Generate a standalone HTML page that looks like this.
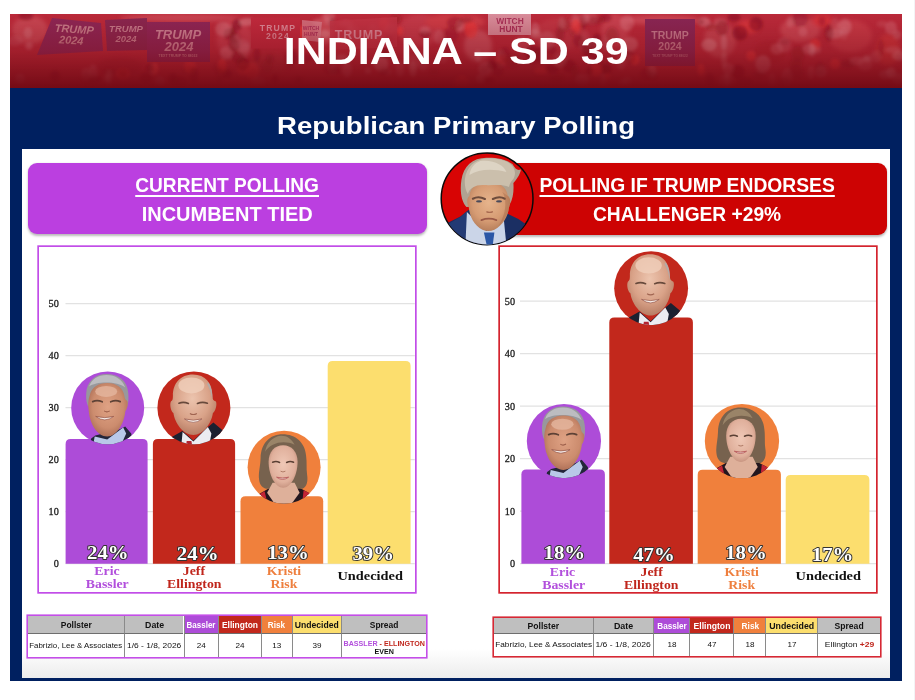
<!DOCTYPE html>
<html lang="en">
<head>
<meta charset="utf-8">
<title>Indiana SD 39 - Republican Primary Polling</title>
<style>
html,body{margin:0;padding:0;}
body{width:915px;height:700px;overflow:hidden;background:#fff;position:relative;font-family:"Liberation Sans",sans-serif;}
.abs{position:absolute;}
#slide{left:10px;top:14px;width:892px;height:667px;background:#002060;}
#hdr{left:10px;top:14px;width:892px;height:74px;overflow:hidden;background:linear-gradient(180deg,#c83848 0%,#b82838 30%,#9c1826 62%,#7e0e18 100%);}
#title{left:10px;top:14px;width:892px;height:74px;text-align:center;color:#fff;font-weight:bold;font-size:36.7px;line-height:74px;white-space:nowrap;}
#title span{display:inline-block;}
#sub{left:10px;top:108px;width:892px;text-align:center;color:#fff;font-weight:bold;font-size:23.7px;line-height:32px;white-space:nowrap;}
#sub span{display:inline-block;}
#panel{left:22px;top:149px;width:868px;height:529px;background:linear-gradient(180deg,#fff 0%,#fff 94.5%,#ececec 100%);}
.hbox{border-radius:9px;box-shadow:0 1.5px 2.5px rgba(0,0,0,.28);color:#fff;font-weight:bold;text-align:center;white-space:nowrap;}
.hbox div{position:absolute;left:0;right:0;text-align:center;font-size:20px;line-height:24px;}
.hbox span{display:inline-block;}
#pbox{left:27.7px;top:163px;width:399px;height:71.2px;background:#bb3fe0;}
#rbox{left:487.8px;top:163.3px;width:399.4px;height:71.3px;background:#cd0303;}
.chart{box-sizing:border-box;background:#fff;}
#c1{left:39px;top:246.7px;width:376.2px;height:345.2px;box-shadow:0 0 0 1.7px #c24de8;}
#c2{left:499.5px;top:246.7px;width:376.2px;height:345.8px;box-shadow:0 0 0 1.7px #d4242e;}
.grid{height:1px;background:#e4e4e4;}
.tick{font-family:"Liberation Serif",serif;font-size:10px;line-height:12px;color:#222;width:20px;text-align:left;}
.bar{border-radius:5px 5px 0 0;}
.pu{background:#ad4cd8;}.rd{background:#c2281c;}.or{background:#f0803c;}.ye{background:#fcde6e;}
.cat{font-family:"Liberation Serif",serif;font-weight:bold;font-size:12px;line-height:12.3px;text-align:center;width:90px;white-space:nowrap;}
.cpu{color:#b24fdc;}.crd{color:#c0261c;}.cor{color:#ee7f3e;}.cbk{color:#111;}
svg text.pct{font-family:"Liberation Serif",serif;font-weight:bold;font-size:18.6px;fill:#fff;stroke:#333;stroke-width:1.8px;transform-box:fill-box;transform-origin:center;transform:scaleX(1.12);paint-order:stroke;stroke-linejoin:round;text-anchor:middle;}
.tb{background:#fff;font-family:"Liberation Sans",sans-serif;color:#111;}
.tb .c{position:absolute;box-sizing:border-box;display:flex;align-items:center;justify-content:center;white-space:nowrap;text-align:center;border-left:1px solid #8a8a8a;}
.tb .c:first-child,.tb .c:nth-child(2){border-left:none;}
.tb .c span{display:inline-block;margin:0 -20px;}
.tb .h{background:#bfbfbf;font-weight:bold;border-bottom:1px solid #6e6e6e;}
.tb .h.pu{background:#ad4cd8;color:#fff;}.tb .h.rd{background:#c2281c;color:#fff;}.tb .h.or{background:#f0803c;color:#fff;}.tb .h.ye{background:#fcde6e;}
.tb .d{line-height:8.6px;}
.tb i{font-style:normal;}.tb .p{color:#b24fdc;}.tb .r{color:#c0261c;}
</style>
</head>
<body>
<div class="abs" style="left:913.5px;top:0;width:1.5px;height:700px;background:#f3f3f5"></div>
<div id="slide" class="abs"></div>
<div id="hdr" class="abs">
<svg width="892" height="74" viewBox="10 14 892 74" style="position:absolute;left:0;top:0">
<defs>
<linearGradient id="hg" x1="0" y1="0" x2="0" y2="1"><stop offset="0" stop-color="#780c16" stop-opacity="0"/><stop offset=".5" stop-color="#780c16" stop-opacity=".38"/><stop offset=".8" stop-color="#760c16" stop-opacity=".76"/><stop offset="1" stop-color="#740b15" stop-opacity="1"/></linearGradient>
<filter id="bl" x="-10%" y="-10%" width="120%" height="120%"><feGaussianBlur stdDeviation="2.2"/></filter>
<filter id="bl2" x="-5%" y="-20%" width="110%" height="140%"><feGaussianBlur stdDeviation="1.5"/></filter>
<filter id="bl1" x="-10%" y="-10%" width="120%" height="120%"><feGaussianBlur stdDeviation=".5"/></filter>
</defs>
<rect x="10" y="14" width="892" height="74" fill="#ba2a3a"/>
<g filter="url(#bl)" opacity=".6">
  <ellipse cx="30" cy="30" rx="18" ry="14" fill="#d25a64"/>
  <ellipse cx="120" cy="66" rx="22" ry="9" fill="#a82430"/>
  <ellipse cx="235" cy="40" rx="18" ry="20" fill="#cf4a58"/>
  <ellipse cx="270" cy="64" rx="20" ry="10" fill="#b0303a"/>
  <ellipse cx="325" cy="30" rx="10" ry="14" fill="#d8606a"/>
  <ellipse cx="420" cy="30" rx="22" ry="16" fill="#cc4452"/>
  <ellipse cx="455" cy="22" rx="30" ry="8" fill="#dc4a50"/>
  <ellipse cx="478" cy="46" rx="14" ry="16" fill="#d86a74"/>
  <ellipse cx="560" cy="34" rx="26" ry="16" fill="#c43c4a"/>
  <ellipse cx="615" cy="30" rx="14" ry="16" fill="#d4525e"/>
  <ellipse cx="720" cy="40" rx="16" ry="18" fill="#cf5660"/>
  <ellipse cx="748" cy="27" rx="11" ry="7" fill="#ea3c40"/>
  <ellipse cx="770" cy="52" rx="16" ry="12" fill="#b0242e"/>
  <ellipse cx="800" cy="30" rx="20" ry="12" fill="#d65862"/>
  <ellipse cx="822" cy="21" rx="10" ry="6" fill="#e83a3e"/>
  <ellipse cx="850" cy="36" rx="22" ry="16" fill="#d04450"/>
  <ellipse cx="888" cy="50" rx="12" ry="16" fill="#da3c3c"/>
  <ellipse cx="660" cy="20" rx="40" ry="5" fill="#d85a66"/>
  <ellipse cx="180" cy="18" rx="60" ry="4" fill="#d45864"/>
</g>
<g filter="url(#bl2)"><ellipse cx="590" cy="21" rx="7.5" ry="4.3" fill="#8c1622" opacity="0.37"/><ellipse cx="226" cy="53" rx="6.2" ry="6.5" fill="#e8909a" opacity="0.35"/><ellipse cx="384" cy="53" rx="3.9" ry="6.5" fill="#6e0c16" opacity="0.41"/><ellipse cx="579" cy="41" rx="6.1" ry="6.0" fill="#7a0e1a" opacity="0.36"/><ellipse cx="484" cy="69" rx="4.2" ry="4.1" fill="#8c1622" opacity="0.32"/><ellipse cx="704" cy="22" rx="6.6" ry="4.7" fill="#f0b4b8" opacity="0.34"/><ellipse cx="882" cy="24" rx="5.4" ry="3.2" fill="#dc7c88" opacity="0.21"/><ellipse cx="605" cy="68" rx="4.8" ry="6.0" fill="#8c1622" opacity="0.32"/><ellipse cx="720" cy="21" rx="6.3" ry="3.4" fill="#dc7c88" opacity="0.27"/><ellipse cx="635" cy="60" rx="4.4" ry="5.3" fill="#f23a3a" opacity="0.75"/><ellipse cx="606" cy="18" rx="5.5" ry="4.3" fill="#7a0e1a" opacity="0.37"/><ellipse cx="267" cy="66" rx="5.2" ry="6.3" fill="#8c1622" opacity="0.27"/><ellipse cx="796" cy="72" rx="7.9" ry="7.1" fill="#8c1622" opacity="0.39"/><ellipse cx="350" cy="32" rx="4.2" ry="5.9" fill="#e4a0a8" opacity="0.22"/><ellipse cx="535" cy="34" rx="6.0" ry="4.9" fill="#f0b4b8" opacity="0.27"/><ellipse cx="123" cy="74" rx="6.7" ry="5.7" fill="#f23a3a" opacity="0.70"/><ellipse cx="785" cy="81" rx="5.0" ry="3.6" fill="#6e0c16" opacity="0.33"/><ellipse cx="575" cy="20" rx="3.5" ry="6.6" fill="#e4a0a8" opacity="0.26"/><ellipse cx="489" cy="81" rx="6.1" ry="3.9" fill="#7a0e1a" opacity="0.42"/><ellipse cx="236" cy="40" rx="5.4" ry="8.9" fill="#7a0e1a" opacity="0.27"/><ellipse cx="439" cy="37" rx="5.4" ry="7.2" fill="#dc7c88" opacity="0.32"/><ellipse cx="471" cy="30" rx="6.5" ry="8.5" fill="#f23a3a" opacity="0.61"/><ellipse cx="583" cy="22" rx="3.8" ry="7.6" fill="#6e0c16" opacity="0.32"/><ellipse cx="485" cy="69" rx="6.9" ry="7.5" fill="#e4a0a8" opacity="0.29"/><ellipse cx="368" cy="71" rx="3.1" ry="3.2" fill="#f0b4b8" opacity="0.24"/><ellipse cx="627" cy="81" rx="4.8" ry="4.3" fill="#dc7c88" opacity="0.35"/><ellipse cx="811" cy="73" rx="3.4" ry="7.0" fill="#dc7c88" opacity="0.32"/><ellipse cx="820" cy="69" rx="5.2" ry="6.8" fill="#8c1622" opacity="0.43"/><ellipse cx="89" cy="80" rx="7.7" ry="7.3" fill="#8c1622" opacity="0.33"/><ellipse cx="146" cy="78" rx="6.0" ry="5.8" fill="#7a0e1a" opacity="0.37"/><ellipse cx="844" cy="27" rx="7.9" ry="6.9" fill="#e8909a" opacity="0.18"/><ellipse cx="480" cy="79" rx="4.1" ry="4.5" fill="#e4a0a8" opacity="0.33"/><ellipse cx="384" cy="25" rx="5.3" ry="6.5" fill="#f23a3a" opacity="0.61"/><ellipse cx="815" cy="45" rx="5.7" ry="6.1" fill="#f23a3a" opacity="0.65"/><ellipse cx="29" cy="46" rx="3.7" ry="3.8" fill="#e8909a" opacity="0.32"/><ellipse cx="562" cy="24" rx="3.5" ry="6.4" fill="#f0b4b8" opacity="0.32"/><ellipse cx="233" cy="35" rx="3.1" ry="8.4" fill="#6e0c16" opacity="0.34"/><ellipse cx="876" cy="57" rx="5.7" ry="5.9" fill="#dc7c88" opacity="0.26"/><ellipse cx="848" cy="64" rx="7.5" ry="4.2" fill="#8c1622" opacity="0.43"/><ellipse cx="409" cy="44" rx="4.2" ry="3.4" fill="#dc7c88" opacity="0.19"/><ellipse cx="606" cy="69" rx="6.2" ry="5.2" fill="#7a0e1a" opacity="0.44"/><ellipse cx="237" cy="25" rx="5.0" ry="5.9" fill="#6e0c16" opacity="0.44"/><ellipse cx="891" cy="73" rx="5.0" ry="5.5" fill="#f0b4b8" opacity="0.36"/><ellipse cx="329" cy="22" rx="5.2" ry="3.1" fill="#dc7c88" opacity="0.28"/><ellipse cx="306" cy="58" rx="7.6" ry="4.4" fill="#7a0e1a" opacity="0.27"/><ellipse cx="790" cy="22" rx="3.6" ry="5.5" fill="#e4a0a8" opacity="0.23"/><ellipse cx="821" cy="72" rx="5.6" ry="6.0" fill="#e4a0a8" opacity="0.27"/><ellipse cx="722" cy="28" rx="6.2" ry="7.8" fill="#8c1622" opacity="0.44"/><ellipse cx="86" cy="74" rx="4.7" ry="6.3" fill="#e8909a" opacity="0.26"/><ellipse cx="835" cy="34" rx="7.8" ry="4.6" fill="#e4a0a8" opacity="0.35"/><ellipse cx="173" cy="79" rx="4.4" ry="6.0" fill="#6e0c16" opacity="0.40"/><ellipse cx="28" cy="33" rx="4.2" ry="5.7" fill="#e4a0a8" opacity="0.27"/><ellipse cx="597" cy="60" rx="5.0" ry="6.0" fill="#6e0c16" opacity="0.42"/><ellipse cx="623" cy="83" rx="4.7" ry="3.3" fill="#e4a0a8" opacity="0.25"/><ellipse cx="759" cy="75" rx="6.5" ry="3.3" fill="#8c1622" opacity="0.37"/><ellipse cx="15" cy="41" rx="7.8" ry="4.9" fill="#dc7c88" opacity="0.22"/><ellipse cx="329" cy="16" rx="6.3" ry="4.5" fill="#f0b4b8" opacity="0.23"/><ellipse cx="701" cy="22" rx="3.2" ry="3.1" fill="#7a0e1a" opacity="0.33"/><ellipse cx="532" cy="52" rx="6.9" ry="6.6" fill="#6e0c16" opacity="0.43"/><ellipse cx="451" cy="35" rx="7.2" ry="8.4" fill="#7a0e1a" opacity="0.26"/><ellipse cx="569" cy="66" rx="6.8" ry="6.4" fill="#7a0e1a" opacity="0.43"/><ellipse cx="734" cy="17" rx="6.5" ry="4.4" fill="#6e0c16" opacity="0.39"/><ellipse cx="332" cy="23" rx="3.1" ry="6.2" fill="#6e0c16" opacity="0.26"/><ellipse cx="229" cy="34" rx="5.5" ry="6.2" fill="#7a0e1a" opacity="0.40"/><ellipse cx="597" cy="20" rx="7.2" ry="4.4" fill="#8c1622" opacity="0.41"/><ellipse cx="589" cy="47" rx="6.4" ry="7.6" fill="#7a0e1a" opacity="0.35"/><ellipse cx="560" cy="60" rx="6.3" ry="7.2" fill="#e4a0a8" opacity="0.24"/><ellipse cx="564" cy="25" rx="6.4" ry="7.2" fill="#8c1622" opacity="0.30"/><ellipse cx="612" cy="36" rx="6.8" ry="9.0" fill="#8c1622" opacity="0.34"/><ellipse cx="462" cy="84" rx="7.6" ry="8.6" fill="#f23a3a" opacity="0.62"/><ellipse cx="331" cy="57" rx="6.5" ry="4.4" fill="#8c1622" opacity="0.43"/><ellipse cx="809" cy="49" rx="6.4" ry="5.4" fill="#e8909a" opacity="0.35"/><ellipse cx="346" cy="24" rx="7.2" ry="3.7" fill="#dc7c88" opacity="0.32"/><ellipse cx="835" cy="64" rx="4.9" ry="5.4" fill="#f23a3a" opacity="0.59"/><ellipse cx="899" cy="56" rx="7.3" ry="4.7" fill="#f0b4b8" opacity="0.32"/><ellipse cx="576" cy="26" rx="4.6" ry="7.6" fill="#f23a3a" opacity="0.63"/><ellipse cx="709" cy="45" rx="7.7" ry="6.3" fill="#f0b4b8" opacity="0.35"/><ellipse cx="835" cy="25" rx="4.3" ry="7.4" fill="#dc7c88" opacity="0.23"/><ellipse cx="592" cy="44" rx="5.0" ry="4.0" fill="#f0b4b8" opacity="0.28"/><ellipse cx="816" cy="50" rx="5.2" ry="3.8" fill="#dc7c88" opacity="0.36"/><ellipse cx="316" cy="22" rx="4.0" ry="3.1" fill="#dc7c88" opacity="0.32"/><ellipse cx="785" cy="42" rx="4.7" ry="3.4" fill="#7a0e1a" opacity="0.33"/><ellipse cx="258" cy="82" rx="7.5" ry="5.3" fill="#e4a0a8" opacity="0.19"/><ellipse cx="585" cy="45" rx="5.1" ry="7.6" fill="#e8909a" opacity="0.20"/><ellipse cx="726" cy="82" rx="7.6" ry="8.0" fill="#e8909a" opacity="0.25"/><ellipse cx="772" cy="82" rx="3.8" ry="8.8" fill="#e8909a" opacity="0.22"/><ellipse cx="109" cy="72" rx="6.9" ry="3.0" fill="#8c1622" opacity="0.27"/><ellipse cx="867" cy="59" rx="3.6" ry="3.4" fill="#f0b4b8" opacity="0.30"/><ellipse cx="478" cy="56" rx="3.0" ry="6.2" fill="#e4a0a8" opacity="0.32"/><ellipse cx="897" cy="35" rx="4.2" ry="4.5" fill="#e4a0a8" opacity="0.27"/><ellipse cx="865" cy="64" rx="7.4" ry="6.9" fill="#e8909a" opacity="0.22"/><ellipse cx="389" cy="41" rx="5.1" ry="7.1" fill="#6e0c16" opacity="0.32"/><ellipse cx="188" cy="70" rx="5.5" ry="4.2" fill="#6e0c16" opacity="0.26"/><ellipse cx="425" cy="34" rx="5.5" ry="4.1" fill="#7a0e1a" opacity="0.44"/><ellipse cx="603" cy="81" rx="3.1" ry="6.6" fill="#f0b4b8" opacity="0.19"/><ellipse cx="381" cy="64" rx="7.4" ry="7.4" fill="#f0b4b8" opacity="0.34"/><ellipse cx="898" cy="79" rx="5.6" ry="5.8" fill="#e4a0a8" opacity="0.30"/><ellipse cx="289" cy="65" rx="3.5" ry="3.5" fill="#8c1622" opacity="0.34"/><ellipse cx="798" cy="54" rx="7.1" ry="7.9" fill="#8c1622" opacity="0.32"/><ellipse cx="396" cy="19" rx="5.2" ry="4.9" fill="#8c1622" opacity="0.36"/><ellipse cx="573" cy="33" rx="3.2" ry="3.4" fill="#8c1622" opacity="0.26"/><ellipse cx="829" cy="33" rx="4.4" ry="8.7" fill="#6e0c16" opacity="0.32"/><ellipse cx="560" cy="34" rx="4.5" ry="7.3" fill="#8c1622" opacity="0.43"/><ellipse cx="541" cy="71" rx="7.1" ry="3.6" fill="#f23a3a" opacity="0.52"/><ellipse cx="701" cy="70" rx="3.7" ry="6.0" fill="#f23a3a" opacity="0.74"/><ellipse cx="20" cy="79" rx="4.6" ry="4.9" fill="#e4a0a8" opacity="0.29"/><ellipse cx="333" cy="69" rx="3.8" ry="5.4" fill="#e4a0a8" opacity="0.25"/><ellipse cx="589" cy="49" rx="7.4" ry="8.9" fill="#7a0e1a" opacity="0.45"/><ellipse cx="247" cy="22" rx="7.9" ry="4.0" fill="#f0b4b8" opacity="0.36"/><ellipse cx="803" cy="32" rx="4.5" ry="4.7" fill="#e8909a" opacity="0.32"/><ellipse cx="243" cy="46" rx="7.4" ry="6.5" fill="#e4a0a8" opacity="0.21"/><ellipse cx="893" cy="50" rx="8.0" ry="3.6" fill="#e8909a" opacity="0.30"/><ellipse cx="434" cy="72" rx="4.5" ry="3.7" fill="#8c1622" opacity="0.26"/><ellipse cx="180" cy="82" rx="7.3" ry="5.7" fill="#7a0e1a" opacity="0.32"/><ellipse cx="243" cy="69" rx="6.0" ry="6.7" fill="#f23a3a" opacity="0.53"/><ellipse cx="238" cy="57" rx="7.1" ry="5.5" fill="#7a0e1a" opacity="0.41"/><ellipse cx="342" cy="58" rx="5.7" ry="3.4" fill="#e8909a" opacity="0.32"/><ellipse cx="501" cy="59" rx="4.4" ry="8.9" fill="#e4a0a8" opacity="0.25"/><ellipse cx="605" cy="44" rx="3.1" ry="7.6" fill="#dc7c88" opacity="0.25"/><ellipse cx="724" cy="60" rx="3.0" ry="8.4" fill="#f0b4b8" opacity="0.22"/><ellipse cx="388" cy="72" rx="3.8" ry="3.1" fill="#dc7c88" opacity="0.27"/><ellipse cx="502" cy="60" rx="6.1" ry="5.2" fill="#f23a3a" opacity="0.53"/><ellipse cx="460" cy="26" rx="3.5" ry="5.9" fill="#e4a0a8" opacity="0.35"/><ellipse cx="727" cy="82" rx="3.2" ry="8.5" fill="#e4a0a8" opacity="0.33"/><ellipse cx="291" cy="57" rx="6.1" ry="7.9" fill="#7a0e1a" opacity="0.43"/><ellipse cx="154" cy="69" rx="4.0" ry="5.8" fill="#f0b4b8" opacity="0.29"/><ellipse cx="845" cy="27" rx="6.6" ry="8.4" fill="#e4a0a8" opacity="0.22"/><ellipse cx="756" cy="24" rx="6.9" ry="6.9" fill="#6e0c16" opacity="0.42"/><ellipse cx="358" cy="41" rx="6.1" ry="5.9" fill="#7a0e1a" opacity="0.25"/><ellipse cx="221" cy="68" rx="7.1" ry="5.4" fill="#8c1622" opacity="0.42"/><ellipse cx="336" cy="71" rx="6.2" ry="3.5" fill="#6e0c16" opacity="0.26"/><ellipse cx="466" cy="20" rx="6.9" ry="3.2" fill="#8c1622" opacity="0.38"/><ellipse cx="627" cy="23" rx="7.1" ry="7.8" fill="#f0b4b8" opacity="0.23"/><ellipse cx="621" cy="65" rx="4.3" ry="4.9" fill="#dc7c88" opacity="0.29"/><ellipse cx="557" cy="78" rx="7.6" ry="4.2" fill="#8c1622" opacity="0.35"/><ellipse cx="245" cy="50" rx="5.0" ry="6.8" fill="#e8909a" opacity="0.22"/><ellipse cx="347" cy="70" rx="4.8" ry="8.2" fill="#e8909a" opacity="0.30"/><ellipse cx="505" cy="55" rx="5.7" ry="8.1" fill="#7a0e1a" opacity="0.30"/><ellipse cx="346" cy="41" rx="5.2" ry="4.1" fill="#dc7c88" opacity="0.32"/><ellipse cx="740" cy="33" rx="7.5" ry="7.4" fill="#6e0c16" opacity="0.44"/><ellipse cx="270" cy="59" rx="3.7" ry="4.4" fill="#8c1622" opacity="0.43"/><ellipse cx="592" cy="18" rx="5.6" ry="6.2" fill="#dc7c88" opacity="0.24"/><ellipse cx="379" cy="36" rx="5.4" ry="3.8" fill="#dc7c88" opacity="0.30"/><ellipse cx="844" cy="33" rx="3.7" ry="7.0" fill="#e8909a" opacity="0.19"/><ellipse cx="252" cy="71" rx="7.1" ry="8.4" fill="#f23a3a" opacity="0.52"/><ellipse cx="540" cy="55" rx="4.2" ry="8.4" fill="#6e0c16" opacity="0.40"/><ellipse cx="373" cy="32" rx="5.8" ry="8.6" fill="#e8909a" opacity="0.18"/><ellipse cx="552" cy="50" rx="4.5" ry="4.8" fill="#6e0c16" opacity="0.28"/><ellipse cx="55" cy="76" rx="4.9" ry="5.6" fill="#6e0c16" opacity="0.36"/><ellipse cx="822" cy="21" rx="3.5" ry="4.4" fill="#7a0e1a" opacity="0.30"/><ellipse cx="763" cy="64" rx="7.6" ry="8.8" fill="#f0b4b8" opacity="0.30"/><ellipse cx="275" cy="79" rx="3.1" ry="4.6" fill="#7a0e1a" opacity="0.43"/><ellipse cx="222" cy="67" rx="4.6" ry="8.3" fill="#f23a3a" opacity="0.72"/><ellipse cx="304" cy="32" rx="6.5" ry="7.0" fill="#f23a3a" opacity="0.69"/><ellipse cx="881" cy="48" rx="3.1" ry="8.7" fill="#6e0c16" opacity="0.25"/><ellipse cx="220" cy="76" rx="3.4" ry="8.5" fill="#8c1622" opacity="0.37"/><ellipse cx="107" cy="79" rx="3.2" ry="3.8" fill="#e4a0a8" opacity="0.31"/><ellipse cx="583" cy="19" rx="6.0" ry="5.2" fill="#e8909a" opacity="0.19"/><ellipse cx="738" cy="72" rx="6.8" ry="7.3" fill="#7a0e1a" opacity="0.43"/><ellipse cx="353" cy="33" rx="7.2" ry="7.9" fill="#e8909a" opacity="0.19"/><ellipse cx="575" cy="72" rx="3.7" ry="7.8" fill="#8c1622" opacity="0.35"/><ellipse cx="586" cy="36" rx="4.3" ry="4.7" fill="#dc7c88" opacity="0.19"/><ellipse cx="297" cy="82" rx="3.2" ry="5.5" fill="#8c1622" opacity="0.37"/><ellipse cx="400" cy="69" rx="4.1" ry="8.2" fill="#e8909a" opacity="0.27"/><ellipse cx="93" cy="72" rx="4.4" ry="7.5" fill="#e8909a" opacity="0.27"/><ellipse cx="745" cy="82" rx="7.7" ry="4.7" fill="#6e0c16" opacity="0.30"/><ellipse cx="455" cy="23" rx="8.0" ry="6.4" fill="#7a0e1a" opacity="0.35"/><ellipse cx="96" cy="79" rx="7.4" ry="3.2" fill="#6e0c16" opacity="0.27"/><ellipse cx="812" cy="50" rx="3.6" ry="6.6" fill="#e4a0a8" opacity="0.35"/><ellipse cx="624" cy="57" rx="7.3" ry="5.7" fill="#dc7c88" opacity="0.27"/><ellipse cx="423" cy="63" rx="5.3" ry="8.3" fill="#e4a0a8" opacity="0.20"/><ellipse cx="223" cy="29" rx="7.9" ry="7.3" fill="#e4a0a8" opacity="0.31"/><ellipse cx="547" cy="40" rx="7.8" ry="9.0" fill="#e4a0a8" opacity="0.22"/><ellipse cx="109" cy="78" rx="3.1" ry="8.1" fill="#f0b4b8" opacity="0.27"/><ellipse cx="400" cy="31" rx="3.1" ry="4.5" fill="#f23a3a" opacity="0.59"/><ellipse cx="227" cy="74" rx="5.1" ry="4.4" fill="#6e0c16" opacity="0.40"/><ellipse cx="653" cy="76" rx="4.1" ry="4.1" fill="#6e0c16" opacity="0.37"/><ellipse cx="243" cy="64" rx="6.6" ry="6.8" fill="#7a0e1a" opacity="0.41"/><ellipse cx="234" cy="45" rx="5.6" ry="7.0" fill="#6e0c16" opacity="0.42"/><ellipse cx="787" cy="77" rx="5.4" ry="8.8" fill="#e8909a" opacity="0.25"/><ellipse cx="155" cy="69" rx="3.5" ry="6.4" fill="#f23a3a" opacity="0.66"/><ellipse cx="492" cy="65" rx="4.8" ry="5.1" fill="#6e0c16" opacity="0.41"/><ellipse cx="891" cy="28" rx="6.1" ry="6.8" fill="#e8909a" opacity="0.31"/><ellipse cx="236" cy="42" rx="5.1" ry="7.2" fill="#e8909a" opacity="0.25"/><ellipse cx="325" cy="34" rx="5.6" ry="4.3" fill="#f0b4b8" opacity="0.35"/><ellipse cx="724" cy="43" rx="3.3" ry="7.8" fill="#e4a0a8" opacity="0.35"/><ellipse cx="652" cy="71" rx="4.5" ry="6.3" fill="#f0b4b8" opacity="0.27"/><ellipse cx="123" cy="73" rx="4.9" ry="4.5" fill="#7a0e1a" opacity="0.30"/><ellipse cx="390" cy="29" rx="6.3" ry="4.9" fill="#dc7c88" opacity="0.24"/><ellipse cx="443" cy="58" rx="4.5" ry="5.3" fill="#dc7c88" opacity="0.21"/><ellipse cx="300" cy="80" rx="3.1" ry="3.1" fill="#8c1622" opacity="0.38"/><ellipse cx="857" cy="61" rx="7.3" ry="4.1" fill="#e8909a" opacity="0.28"/><ellipse cx="413" cy="69" rx="3.8" ry="8.3" fill="#f0b4b8" opacity="0.32"/><ellipse cx="552" cy="69" rx="7.2" ry="4.2" fill="#6e0c16" opacity="0.41"/><ellipse cx="627" cy="52" rx="3.6" ry="3.7" fill="#8c1622" opacity="0.38"/><ellipse cx="384" cy="72" rx="5.3" ry="3.9" fill="#6e0c16" opacity="0.26"/><ellipse cx="448" cy="50" rx="7.2" ry="5.8" fill="#6e0c16" opacity="0.25"/><ellipse cx="512" cy="61" rx="8.0" ry="7.1" fill="#8c1622" opacity="0.34"/><ellipse cx="586" cy="17" rx="3.5" ry="5.9" fill="#dc7c88" opacity="0.32"/><ellipse cx="597" cy="39" rx="4.1" ry="5.6" fill="#6e0c16" opacity="0.40"/><ellipse cx="387" cy="54" rx="5.5" ry="5.0" fill="#8c1622" opacity="0.32"/><ellipse cx="886" cy="75" rx="7.0" ry="5.0" fill="#e4a0a8" opacity="0.30"/><ellipse cx="533" cy="59" rx="5.8" ry="5.4" fill="#7a0e1a" opacity="0.33"/><ellipse cx="522" cy="43" rx="7.6" ry="6.7" fill="#e8909a" opacity="0.22"/><ellipse cx="596" cy="70" rx="6.1" ry="6.8" fill="#f23a3a" opacity="0.68"/><ellipse cx="630" cy="57" rx="6.2" ry="6.8" fill="#7a0e1a" opacity="0.26"/><ellipse cx="784" cy="45" rx="7.1" ry="7.7" fill="#e8909a" opacity="0.24"/><ellipse cx="582" cy="80" rx="6.9" ry="5.5" fill="#e8909a" opacity="0.33"/><ellipse cx="630" cy="44" rx="8.0" ry="7.0" fill="#f0b4b8" opacity="0.29"/><ellipse cx="150" cy="68" rx="4.1" ry="3.9" fill="#7a0e1a" opacity="0.38"/><ellipse cx="26" cy="16" rx="7.3" ry="4.3" fill="#7a0e1a" opacity="0.45"/><ellipse cx="257" cy="55" rx="3.3" ry="7.6" fill="#6e0c16" opacity="0.29"/><ellipse cx="646" cy="74" rx="5.8" ry="6.0" fill="#7a0e1a" opacity="0.31"/><ellipse cx="607" cy="77" rx="3.2" ry="3.4" fill="#f23a3a" opacity="0.52"/><ellipse cx="796" cy="63" rx="6.6" ry="4.0" fill="#8c1622" opacity="0.31"/><ellipse cx="777" cy="49" rx="6.6" ry="5.8" fill="#dc7c88" opacity="0.35"/><ellipse cx="160" cy="82" rx="5.1" ry="5.3" fill="#e4a0a8" opacity="0.30"/><ellipse cx="710" cy="80" rx="4.4" ry="6.7" fill="#6e0c16" opacity="0.32"/><ellipse cx="590" cy="71" rx="3.1" ry="3.9" fill="#6e0c16" opacity="0.40"/><ellipse cx="751" cy="56" rx="4.9" ry="5.3" fill="#f23a3a" opacity="0.57"/><ellipse cx="413" cy="63" rx="5.9" ry="7.9" fill="#dc7c88" opacity="0.26"/><ellipse cx="800" cy="19" rx="7.9" ry="7.8" fill="#6e0c16" opacity="0.28"/><ellipse cx="498" cy="69" rx="5.8" ry="7.8" fill="#6e0c16" opacity="0.27"/><ellipse cx="190" cy="67" rx="6.0" ry="7.1" fill="#f23a3a" opacity="0.57"/><ellipse cx="425" cy="30" rx="5.3" ry="3.5" fill="#e8909a" opacity="0.32"/><ellipse cx="728" cy="69" rx="5.6" ry="5.9" fill="#dc7c88" opacity="0.34"/><ellipse cx="535" cy="29" rx="4.4" ry="6.5" fill="#e4a0a8" opacity="0.32"/><ellipse cx="331" cy="69" rx="8.0" ry="5.2" fill="#7a0e1a" opacity="0.26"/><ellipse cx="711" cy="27" rx="6.0" ry="3.6" fill="#8c1622" opacity="0.31"/><ellipse cx="194" cy="75" rx="4.3" ry="7.7" fill="#6e0c16" opacity="0.36"/></g>
<g filter="url(#bl1)" font-family="'Liberation Sans',sans-serif" font-weight="bold" font-style="italic" text-anchor="middle">
  <path d="M52 18 L101 23 L103 51 L37 55 Z" fill="#8c2854"/>
  <text x="74" y="33" font-size="11" fill="#c8808e" transform="rotate(4 74 33)">TRUMP</text>
  <text x="71" y="44" font-size="11" fill="#c8808e" transform="rotate(4 71 44)">2024</text>
  <path d="M105 20 L147 18 L147 50 L107 51 Z" fill="#882650"/>
  <text x="126" y="32" font-size="9.5" fill="#c47c8c">TRUMP</text>
  <text x="126" y="42" font-size="9.5" fill="#c47c8c">2024</text>
  <path d="M147 22 L210 22 L210 62 L147 62 Z" fill="#8c2856"/>
  <text x="178" y="39" font-size="13" fill="#cc8496">TRUMP</text>
  <text x="179" y="51" font-size="13" fill="#cc8496">2024</text>
  <text x="178" y="57" font-size="3.5" fill="#c47c8c" font-style="normal">TEXT TRUMP TO 88022</text>
  <path d="M251 17.6 L300 17.6 L300 48.6 L251 48.6 Z" fill="#c02c3e"/>
  <text x="278" y="30.6" font-size="8.6" fill="#dc8c9a" font-style="normal" letter-spacing="1.2">TRUMP</text>
  <text x="278" y="38.8" font-size="8.6" fill="#dc8c9a" font-style="normal" letter-spacing="1.2">2024</text>
  <path d="M330 21 L397 17 L397 47 L330 50 Z" fill="#c23446" opacity=".8"/>
  <text x="359" y="38.5" font-size="12.5" fill="#d88896" font-style="normal" letter-spacing=".8">TRUMP</text>
  <path d="M488 14 L531 14 L531 35 L488 35 Z" fill="#d88c9a"/>
  <text x="510" y="23.5" font-size="8.4" fill="#a83058" font-style="normal">WITCH</text>
  <text x="511" y="32" font-size="8.4" fill="#a83058" font-style="normal">HUNT</text>
  <path d="M302 20 L322 22 L320 42 L302 40 Z" fill="#d88894" opacity=".7"/>
  <text x="311" y="30" font-size="5" fill="#a83058" font-style="normal">WITCH</text>
  <text x="311" y="36" font-size="5" fill="#a83058" font-style="normal">HUNT</text>
  <path d="M645 19 L695 19 L695 66 L645 66 Z" fill="#882854"/>
  <text x="670" y="39" font-size="10.5" fill="#c47c90" font-style="normal">TRUMP</text>
  <text x="670" y="50" font-size="10.5" fill="#c47c90" font-style="normal">2024</text>
  <text x="670" y="57" font-size="3.2" fill="#b87088" font-style="normal">TEXT TRUMP TO 88022</text>
</g>
<rect x="10" y="14" width="892" height="74" fill="url(#hg)"/>
</svg>
</div>
<div id="title" class="abs"><span style="transform:scaleX(1.172);position:relative;top:1px">INDIANA – SD 39</span></div>
<div id="sub" class="abs"><span style="transform:scaleX(1.162);position:relative;top:2px">Republican Primary Polling</span></div>
<div id="panel" class="abs"></div>

<div id="pbox" class="abs hbox">
  <div style="top:10px"><span style="text-decoration:underline;text-decoration-thickness:1.6px;text-underline-offset:2.5px;transform:scaleX(.956)">CURRENT POLLING</span></div>
  <div style="top:38.7px"><span>INCUMBENT TIED</span></div>
</div>
<div id="rbox" class="abs hbox">
  <div style="top:10px"><span style="text-decoration:underline;text-decoration-thickness:1.6px;text-underline-offset:2.5px;transform:scaleX(.964)">POLLING IF TRUMP ENDORSES</span></div>
  <div style="top:38.7px"><span style="transform:scaleX(.959)">CHALLENGER +29%</span></div>
</div>

<div id="c1" class="abs chart"></div>
<div id="c2" class="abs chart"></div>


<!--TABLES-->
<div id="t1" class="abs tb" style="left:28.0px;top:616.2px;width:397.8px;height:41.2px;box-shadow:0 0 0 1.6px #c44ee8">
<div class="c h " style="left:0.0px;width:96.2px;top:0;height:17.4px;font-size:8.9px"><span style="transform:scaleX(0.95);position:relative;top:1px">Pollster</span></div>
<div class="c d" style="left:0.0px;width:96.2px;top:17.4px;height:23.8px;font-size:8.1px"><span style="transform:scaleX(0.975);position:relative;top:0.6px">Fabrizio, Lee &amp; Associates</span></div>
<div class="c h " style="left:96.2px;width:59.3px;top:0;height:17.4px;font-size:8.9px"><span style="transform:scaleX(0.99);position:relative;top:1px">Date</span></div>
<div class="c d" style="left:96.2px;width:59.3px;top:17.4px;height:23.8px;font-size:8.1px"><span style="transform:scaleX(1.04);position:relative;top:0.6px">1/6 - 1/8, 2026</span></div>
<div class="c h pu" style="left:155.5px;width:34.7px;top:0;height:17.4px;font-size:8.9px"><span style="transform:scaleX(0.9);position:relative;top:1px">Bassler</span></div>
<div class="c d" style="left:155.5px;width:34.7px;top:17.4px;height:23.8px;font-size:8.1px"><span style="transform:scaleX(1);position:relative;top:0.6px">24</span></div>
<div class="c h rd" style="left:190.2px;width:42.6px;top:0;height:17.4px;font-size:8.9px"><span style="transform:scaleX(0.95);position:relative;top:1px">Ellington</span></div>
<div class="c d" style="left:190.2px;width:42.6px;top:17.4px;height:23.8px;font-size:8.1px"><span style="transform:scaleX(1);position:relative;top:0.6px">24</span></div>
<div class="c h or" style="left:232.8px;width:30.9px;top:0;height:17.4px;font-size:8.9px"><span style="transform:scaleX(0.92);position:relative;top:1px">Risk</span></div>
<div class="c d" style="left:232.8px;width:30.9px;top:17.4px;height:23.8px;font-size:8.1px"><span style="transform:scaleX(1);position:relative;top:0.6px">13</span></div>
<div class="c h ye" style="left:263.7px;width:49.5px;top:0;height:17.4px;font-size:8.9px"><span style="transform:scaleX(0.97);position:relative;top:1px">Undecided</span></div>
<div class="c d" style="left:263.7px;width:49.5px;top:17.4px;height:23.8px;font-size:8.1px"><span style="transform:scaleX(1);position:relative;top:0.6px">39</span></div>
<div class="c h " style="left:313.2px;width:84.6px;top:0;height:17.4px;font-size:8.9px"><span style="transform:scaleX(0.95);position:relative;top:1px">Spread</span></div>
<div class="c d" style="left:313.2px;width:84.6px;top:17.4px;height:23.8px;font-size:8.1px"><span style="transform:scaleX(0.88);position:relative;top:2.8000000000000003px"><b><i class="p">BASSLER</i> <i class="r">- ELLINGTON</i><br>EVEN</b></span></div>
</div>
<div id="t2" class="abs tb" style="left:493.8px;top:617.7px;width:386.5px;height:38.2px;box-shadow:0 0 0 1.6px #d62834">
<div class="c h " style="left:0.0px;width:98.8px;top:0;height:15.9px;font-size:8.9px"><span style="transform:scaleX(0.97);position:relative;top:0.5px">Pollster</span></div>
<div class="c d" style="left:0.0px;width:98.8px;top:15.9px;height:22.3px;font-size:8.1px"><span style="transform:scaleX(1.015);position:relative;top:0.7px">Fabrizio, Lee &amp; Associates</span></div>
<div class="c h " style="left:98.8px;width:60.9px;top:0;height:15.9px;font-size:8.9px"><span style="transform:scaleX(1.0);position:relative;top:0.5px">Date</span></div>
<div class="c d" style="left:98.8px;width:60.9px;top:15.9px;height:22.3px;font-size:8.1px"><span style="transform:scaleX(1.06);position:relative;top:0.7px">1/6 - 1/8, 2026</span></div>
<div class="c h pu" style="left:159.7px;width:36.0px;top:0;height:15.9px;font-size:8.9px"><span style="transform:scaleX(0.92);position:relative;top:0.5px">Bassler</span></div>
<div class="c d" style="left:159.7px;width:36.0px;top:15.9px;height:22.3px;font-size:8.1px"><span style="transform:scaleX(1);position:relative;top:0.7px">18</span></div>
<div class="c h rd" style="left:195.7px;width:44.0px;top:0;height:15.9px;font-size:8.9px"><span style="transform:scaleX(0.97);position:relative;top:0.5px">Ellington</span></div>
<div class="c d" style="left:195.7px;width:44.0px;top:15.9px;height:22.3px;font-size:8.1px"><span style="transform:scaleX(1);position:relative;top:0.7px">47</span></div>
<div class="c h or" style="left:239.7px;width:32.0px;top:0;height:15.9px;font-size:8.9px"><span style="transform:scaleX(0.94);position:relative;top:0.5px">Risk</span></div>
<div class="c d" style="left:239.7px;width:32.0px;top:15.9px;height:22.3px;font-size:8.1px"><span style="transform:scaleX(1);position:relative;top:0.7px">18</span></div>
<div class="c h ye" style="left:271.7px;width:52.0px;top:0;height:15.9px;font-size:8.9px"><span style="transform:scaleX(0.99);position:relative;top:0.5px">Undecided</span></div>
<div class="c d" style="left:271.7px;width:52.0px;top:15.9px;height:22.3px;font-size:8.1px"><span style="transform:scaleX(1);position:relative;top:0.7px">17</span></div>
<div class="c h " style="left:323.7px;width:62.8px;top:0;height:15.9px;font-size:8.9px"><span style="transform:scaleX(0.97);position:relative;top:0.5px">Spread</span></div>
<div class="c d" style="left:323.7px;width:62.8px;top:15.9px;height:22.3px;font-size:8.1px"><span style="transform:scaleX(1.05);position:relative;top:0.7px">Ellington <b class="r">+29</b></span></div>
</div>
<!--/TABLES-->
<svg class="abs" style="left:0;top:0" width="915" height="700" viewBox="0 0 915 700">
<defs>
  <radialGradient id="gT" cx=".5" cy=".42" r=".62"><stop offset="0" stop-color="#e6b48c"/><stop offset=".6" stop-color="#d69c74"/><stop offset="1" stop-color="#b27a58"/></radialGradient>
  <radialGradient id="gE" cx=".5" cy=".45" r=".6"><stop offset="0" stop-color="#dfa284"/><stop offset=".65" stop-color="#cc8c6e"/><stop offset="1" stop-color="#a86a52"/></radialGradient>
  <radialGradient id="gJ" cx=".48" cy=".4" r=".62"><stop offset="0" stop-color="#ecc4ae"/><stop offset=".6" stop-color="#d9a288"/><stop offset="1" stop-color="#b47a62"/></radialGradient>
  <radialGradient id="gK" cx=".5" cy=".45" r=".6"><stop offset="0" stop-color="#efc8b6"/><stop offset=".7" stop-color="#e0b09c"/><stop offset="1" stop-color="#c08c78"/></radialGradient>
  <clipPath id="cc"><circle cx="36.5" cy="36.5" r="36.5"/></clipPath>
  <clipPath id="ct"><circle cx="46.7" cy="46.7" r="45.6"/></clipPath>
  <g id="eric">
    <circle cx="36.5" cy="36.5" r="36.5" fill="#ad4cd8"/>
    <g clip-path="url(#cc)">
      <path d="M18 73 L20 67 L24 64 L48 58 L54 55 L60 62 L62 73 Z" fill="#23263a"/>
      <path d="M22 73 L23.5 65 L36 68 L52 56 L55 62 L50 73 Z" fill="#b9c9e8"/>
      <path d="M35.5 2.6 C24 2.6 15.5 10 15 22 C14.6 28 15.5 32 17 35 L56 35 C57.4 31 57.5 26 57 21 C56 9 47 2.6 35.5 2.6 Z" fill="#98989c"/>
      <path d="M35.5 3.6 C27 3.6 20 8 18 15 C24 10 46 9 54 16 C51 8 44 3.6 35.5 3.6 Z" fill="#bcbcc0"/>
      <path d="M36 11.5 C45 11.5 52.5 16 53.5 26 C54 28 55 28.5 56 29.5 C57.2 32 56 38 54.2 39.5 C53 52 45.5 65 36 65 C26 65 18.6 52 17.6 40 C16.6 34 17 28 18.5 24 C20 16 27 11.5 36 11.5 Z" fill="url(#gE)"/>
      <ellipse cx="35" cy="20" rx="11" ry="5.5" fill="#e6b8a2" opacity=".75"/>
      <path d="M24.5 45 Q33.5 52 42.5 45 Q33.5 47.5 24.5 45 Z" fill="#f3e8e4" stroke="#8a4a40" stroke-width=".6"/>
      <path d="M21.5 30.2 Q26 28.2 31 30.4 M39.5 30.4 Q44.5 28.2 49 30.2" stroke="#5e4236" stroke-width="1.7" fill="none" stroke-linecap="round"/>
      <path d="M33 39.5 Q35.5 41.5 38.5 39.5" stroke="#9a5c48" stroke-width="1.1" fill="none"/>
    </g>
  </g>
  <g id="jeff">
    <circle cx="36.5" cy="36.5" r="36.5" fill="#c2281c"/>
    <g clip-path="url(#cc)">
      <path d="M9 73 L13.5 66 L25 59.5 L36 69 L50 56 L56 51 L66 59.5 L70 73 Z" fill="#1c2030"/>
      <path d="M24 73 L25.2 60.5 L36 70 L50.5 55.5 L54 62 L52 73 Z" fill="#ececf1"/>
      <path d="M29.3 69.5 L34 69.5 L34.6 73 L28.8 73 Z" fill="#b22430"/>
      <path d="M35.5 3 C48 3 55 12 55 24 C55 28 56 29 58.5 30 C60 33 58 40 55.5 41.5 C54 52 46 63.5 36 63.5 C26 63.5 17.5 52 16 41.5 C13.5 40 12 33 13.5 30 C15 29 15.5 28 15.5 24 C15.5 12 23 3 35.5 3 Z" fill="url(#gJ)"/>
      <path d="M51 11 C54 15 55.2 21 55 28 C53.6 22 52.4 17 49.6 12.6 Z" fill="#b4aaa8"/>
      <ellipse cx="34" cy="14" rx="13" ry="8" fill="#f0cfbc" opacity=".8"/>
      <path d="M27 47.5 Q36 54.5 44.5 47.5 Q36 50 27 47.5 Z" fill="#f4eae6" stroke="#8c4e44" stroke-width=".6"/>
      <path d="M21.5 31.8 Q26 30 31 32 M40 32 Q45 30 50 31.8" stroke="#684a3c" stroke-width="1.6" fill="none" stroke-linecap="round"/>
      <path d="M32.5 42 Q35.8 44.2 39.5 42" stroke="#a06450" stroke-width="1.2" fill="none"/>
    </g>
  </g>
  <g id="kristi">
    <circle cx="36.5" cy="36.5" r="36.5" fill="#f0803c"/>
    <g clip-path="url(#cc)">
      <path d="M6 73 L12 63 L24 56 L50 56 L61 62 L67 73 Z" fill="#22161e"/>
      <path d="M6 73 L11 64 L17 60.5 L20 73 Z" fill="#c42434"/>
      <path d="M67 73 L62 62.5 L56 59.5 L54.5 73 Z" fill="#c42434"/>
      <path d="M35 3.6 C22 3.6 13.5 13 13 27 C12.8 36 10.5 42 11.5 49 C12 54 15 57.5 19 58 L55 58 C59.5 56 60.5 50 59.5 44 C58.5 37 59.5 32 58.5 25 C57.5 12 48 3.6 35 3.6 Z" fill="#77624e"/>
      <path d="M33 5 C25 6 19 12 17.5 21 C23 12 36 9 47 14 C44 8 39 4.6 33 5 Z" fill="#9a8468"/>
      <path d="M25 52 L47 52 L52 62 L44 73 L27 73 L19.5 62 Z" fill="#deb09a"/>
      <path d="M35.5 14.5 C44 14.5 50 21 50 31 C50 44 43.5 57 35.5 57 C27.5 57 21 44 21 31 C21 21 27 14.5 35.5 14.5 Z" fill="url(#gK)"/>
      <path d="M29 46.5 Q35 50.8 41 46.5 Q35 48.2 29 46.5 Z" fill="#f2e2de" stroke="#b85c5c" stroke-width=".9"/>
      <path d="M25 31.6 Q28.5 30 32 31.8 M39 31.8 Q42.5 30 46 31.6" stroke="#5a4034" stroke-width="1.5" fill="none" stroke-linecap="round"/>
      <path d="M33 40.5 Q35.3 42 37.8 40.5" stroke="#b07c68" stroke-width="1" fill="none"/>
    </g>
  </g>
</defs>
<style>.bpu{fill:#ad4cd8}.brd{fill:#c2281c}.bor{fill:#f0803c}.bye{fill:#fcde6e}.gl{stroke:#e2e2e2;stroke-width:1.3}.tk{font-family:"Liberation Serif",serif;font-size:10.2px;fill:#1c1c1c;stroke:#1c1c1c;stroke-width:.3px;text-anchor:end}.ct{font-family:"Liberation Serif",serif;font-weight:bold;font-size:12px;text-anchor:middle;transform-box:fill-box;transform-origin:center;transform:scaleX(1.15)}</style>
<g id="chartL">
<line class="gl" x1="65.5" x2="414.8" y1="563.7" y2="563.7"/>
<text class="tk" x="58.8" y="567.1">0</text>
<line class="gl" x1="65.5" x2="414.8" y1="511.7" y2="511.7"/>
<text class="tk" x="58.8" y="515.1">10</text>
<line class="gl" x1="65.5" x2="414.8" y1="459.7" y2="459.7"/>
<text class="tk" x="58.8" y="463.1">20</text>
<line class="gl" x1="65.5" x2="414.8" y1="407.7" y2="407.7"/>
<text class="tk" x="58.8" y="411.1">30</text>
<line class="gl" x1="65.5" x2="414.8" y1="355.7" y2="355.7"/>
<text class="tk" x="58.8" y="359.1">40</text>
<line class="gl" x1="65.5" x2="414.8" y1="303.7" y2="303.7"/>
<text class="tk" x="58.8" y="307.1">50</text>
<path class="bpu" d="M65.6 563.7 L65.6 443.9 Q65.6 438.9 70.6 438.9 L142.6 438.9 Q147.6 438.9 147.6 443.9 L147.6 563.7 Z"/>
<path class="brd" d="M152.9 563.7 L152.9 443.9 Q152.9 438.9 157.9 438.9 L230.1 438.9 Q235.1 438.9 235.1 443.9 L235.1 563.7 Z"/>
<path class="bor" d="M240.5 563.7 L240.5 501.2 Q240.5 496.2 245.5 496.2 L318.2 496.2 Q323.2 496.2 323.2 501.2 L323.2 563.7 Z"/>
<path class="bye" d="M327.7 563.7 L327.7 365.9 Q327.7 360.9 332.7 360.9 L405.6 360.9 Q410.6 360.9 410.6 365.9 L410.6 563.7 Z"/>
<use href="#eric" x="71.2" y="371.4"/>
<use href="#jeff" x="157.4" y="371.4"/>
<use href="#kristi" x="247.6" y="430.7"/>
<text class="pct" x="107.8" y="559.1">24%</text>
<text class="pct" x="197.7" y="560.3">24%</text>
<text class="pct" x="288" y="559.3">13%</text>
<text class="pct" x="373.2" y="560.5">39%</text>
<text class="ct" fill="#b24fdc" x="107" y="575.4">Eric</text><text class="ct" fill="#b24fdc" x="107.3" y="587.7">Bassler</text>
<text class="ct" fill="#c0261c" x="194" y="575.4">Jeff</text><text class="ct" fill="#c0261c" x="194.3" y="587.7">Ellington</text>
<text class="ct" fill="#ee7f3e" x="284" y="575.4">Kristi</text><text class="ct" fill="#ee7f3e" x="284" y="587.7">Risk</text>
<text class="ct" fill="#111" x="370.2" y="580.2" style="font-size:12.5px">Undecided</text>
</g>
<g id="chartR">
<line class="gl" x1="520" x2="876" y1="563.7" y2="563.7"/>
<text class="tk" x="515" y="567.1">0</text>
<line class="gl" x1="520" x2="876" y1="511.2" y2="511.2"/>
<text class="tk" x="515" y="514.6">10</text>
<line class="gl" x1="520" x2="876" y1="458.7" y2="458.7"/>
<text class="tk" x="515" y="462.1">20</text>
<line class="gl" x1="520" x2="876" y1="406.2" y2="406.2"/>
<text class="tk" x="515" y="409.6">30</text>
<line class="gl" x1="520" x2="876" y1="353.7" y2="353.7"/>
<text class="tk" x="515" y="357.1">40</text>
<line class="gl" x1="520" x2="876" y1="301.2" y2="301.2"/>
<text class="tk" x="515" y="304.6">50</text>
<path class="bpu" d="M521.4 563.7 L521.4 474.6 Q521.4 469.6 526.4 469.6 L599.9 469.6 Q604.9 469.6 604.9 474.6 L604.9 563.7 Z"/>
<path class="brd" d="M609.3 563.7 L609.3 322.5 Q609.3 317.5 614.3 317.5 L687.9 317.5 Q692.9 317.5 692.9 322.5 L692.9 563.7 Z"/>
<path class="bor" d="M697.7 563.7 L697.7 474.8 Q697.7 469.8 702.7 469.8 L775.9 469.8 Q780.9 469.8 780.9 474.8 L780.9 563.7 Z"/>
<path class="bye" d="M785.7 563.7 L785.7 480 Q785.7 475 790.7 475 L864.4 475 Q869.4 475 869.4 480 L869.4 563.7 Z"/>
<use href="#eric" transform="translate(526.8 403.9) scale(1.017)"/>
<use href="#jeff" transform="translate(614.2 251.3) scale(1.012)"/>
<use href="#kristi" transform="translate(704.8 403.9) scale(1.018)"/>
<text class="pct" x="564.3" y="559.3">18%</text>
<text class="pct" x="654" y="560.7">47%</text>
<text class="pct" x="746" y="559.1">18%</text>
<text class="pct" x="832.6" y="560.9">17%</text>
<text class="ct" fill="#b24fdc" x="562.5" y="576.4">Eric</text><text class="ct" fill="#b24fdc" x="563.7" y="588.7">Bassler</text>
<text class="ct" fill="#c0261c" x="651.7" y="576.4">Jeff</text><text class="ct" fill="#c0261c" x="651.3" y="588.7">Ellington</text>
<text class="ct" fill="#ee7f3e" x="741.7" y="576.4">Kristi</text><text class="ct" fill="#ee7f3e" x="741.7" y="588.7">Risk</text>
<text class="ct" fill="#111" x="828.3" y="580.5" style="font-size:12.5px">Undecided</text>
</g>
<g transform="translate(440.4 152.1)">
  <circle cx="46.7" cy="46.7" r="45.9" fill="#d80404" stroke="#0a0a0a" stroke-width="1.5"/>
  <g clip-path="url(#ct)">
    <path d="M2 93 L7 71 L20 64.5 L28 58 L66 61 L78 67 L88 74 L92 93 Z" fill="#1b2f63"/>
    <path d="M8 72 L20 65 L27 59 L30 93 L4 93 Z" fill="#233a74"/>
    <path d="M25 93 L26.5 60 L46 79 L63 63 L66 93 Z" fill="#cbd5e8"/>
    <path d="M43.5 80.5 L54 80.5 L52.3 93 L46.3 93 Z" fill="#2b57a6"/>
    <path d="M46 5.6 C32 5.6 23 14 21 28 C19.5 38 20.5 49 26 55 L69 53 C73 46 73.5 38 73 31 C76 28 80 22 80.5 17.5 C77 19 75 17 72 12 C64 6 54 5.6 46 5.6 Z" fill="#b0a392"/>
    <path d="M48 30 C58 30 66 34 67.5 44 C69.8 45 70.8 50 68.6 55.5 C68 64 62 74 54 77.6 C50 79.2 46 79.2 42 77.6 C34 74 29 64 28.4 55.5 C25.8 50 26.8 45 29 44 C30 34 38 30 48 30 Z" fill="url(#gT)"/>
    <path d="M45 6.5 C34 8 26 15 24.5 27 C24 33 25 38 27.5 42 C29 36 35 32.5 44 33 C54 33.5 62 31.5 68.5 35 C69.5 31 71.5 28.5 73 27 C77 20 73 12 65 9 C57 6 51 5.5 45 6.5 Z" fill="#cbbfac"/>
    <path d="M40 9 C34 11 30 16 29 23 C38 17 52 16 66 20 C64 13 52 7 40 9 Z" fill="#ddd4c4"/>
    <path d="M32.5 46.6 Q38 43.6 44.5 46.8 M52.5 46.8 Q59 43.6 64.5 46.6" stroke="#6e4c3c" stroke-width="2.2" fill="none" stroke-linecap="round"/>
    <ellipse cx="38.6" cy="49.3" rx="3" ry="1.1" fill="#4a4a5a"/><ellipse cx="58.6" cy="49.3" rx="3" ry="1.1" fill="#4a4a5a"/>
    <path d="M46 59.5 Q49 61.2 52.5 59.5" stroke="#a86a50" stroke-width="1.3" fill="none"/>
    <path d="M41 68 Q48.5 65.2 56 68" stroke="#9a5846" stroke-width="1.7" fill="none" stroke-linecap="round"/>
    <path d="M62 40 C66 46 67 60 58 74 C64 68 68.5 60 68.6 55.5 C70.8 50 69.8 45 67.5 44 Z" fill="#a86c4c" opacity=".45"/>
  </g>
</g>
</svg>
</body>
</html>
